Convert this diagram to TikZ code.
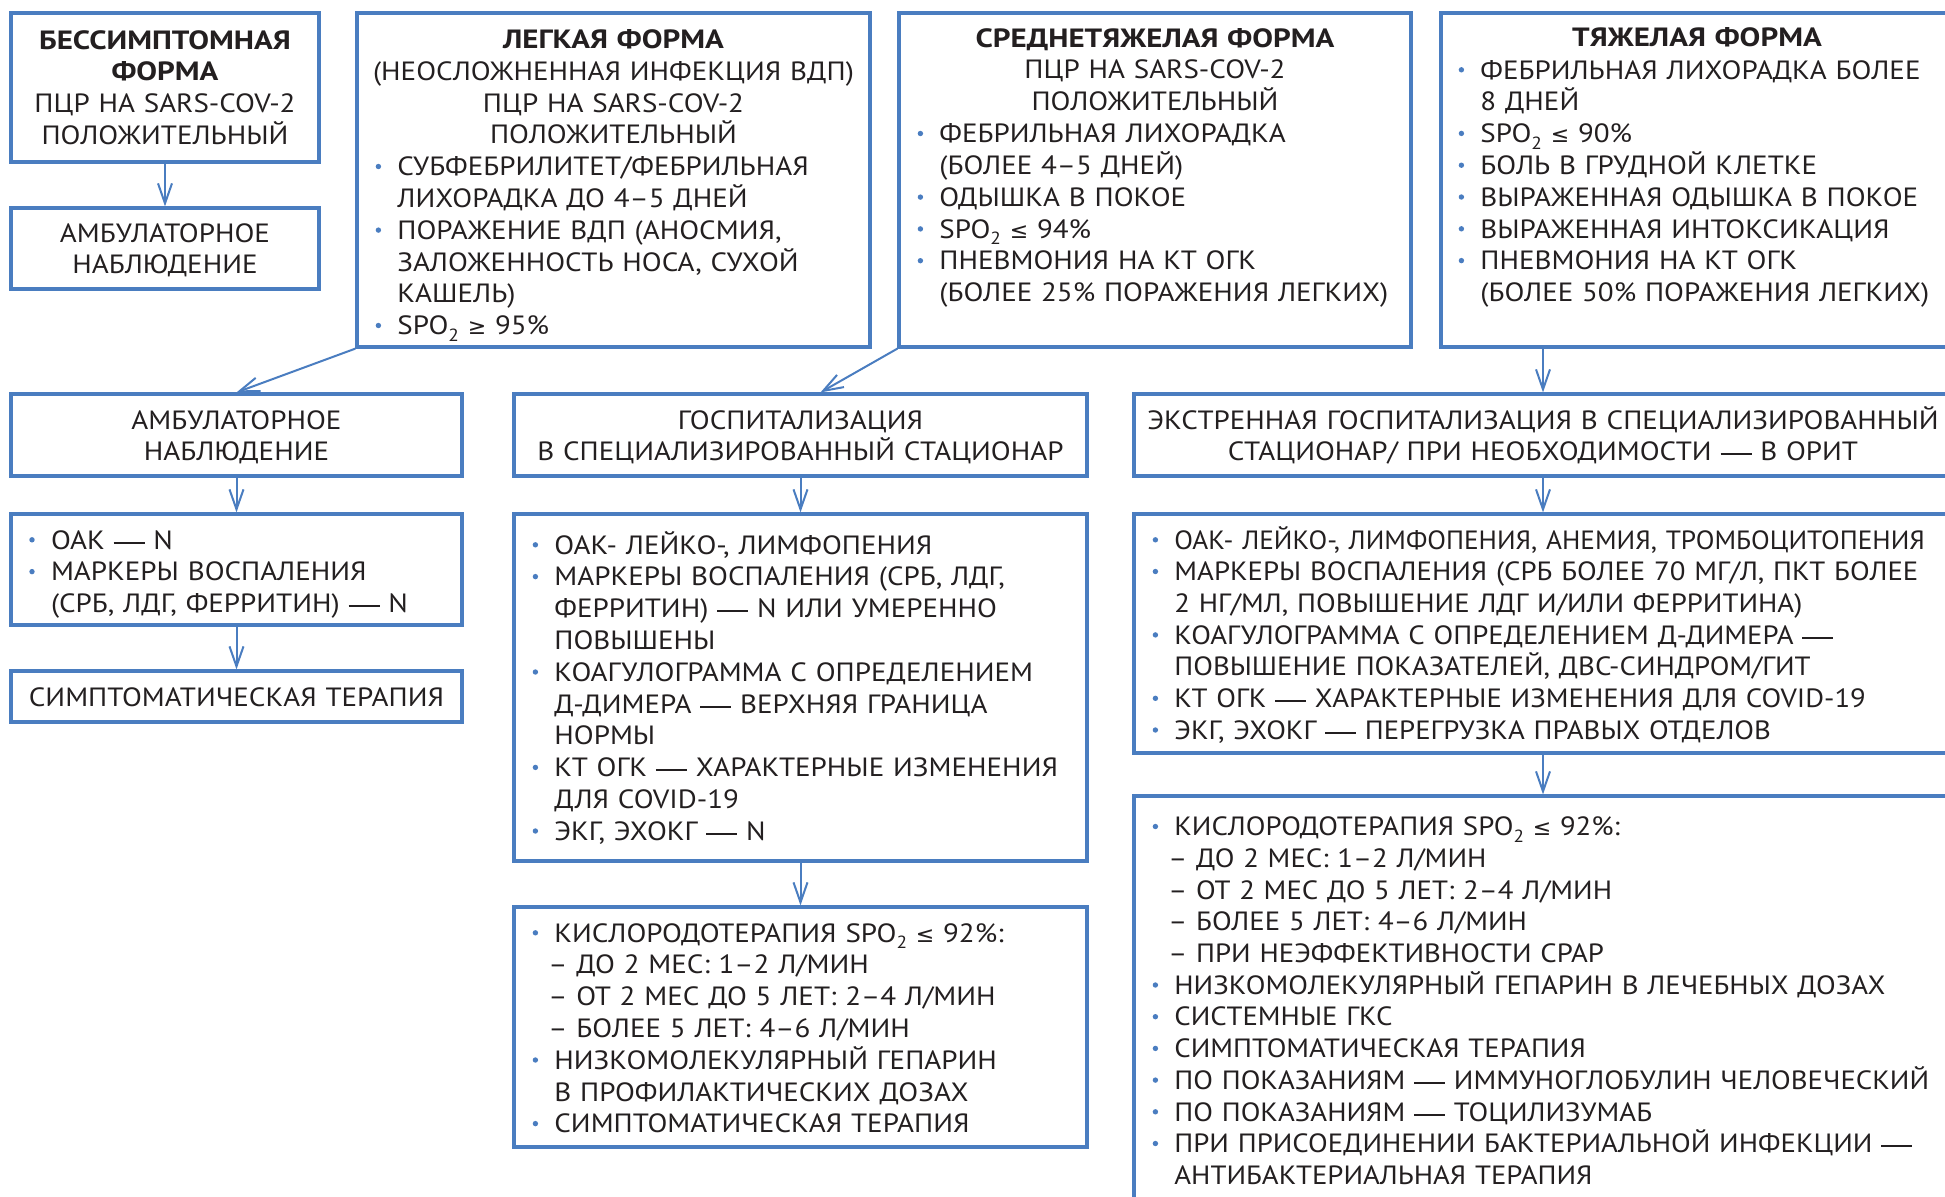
\documentclass[tikz,border=0pt]{standalone}
\usepackage{fontspec}
\setmainfont{PT Sans}[FakeStretch=1.10]
\newfontfamily\hd{PT Sans Bold}[FakeStretch=1.175]
\newfontfamily\rc{PT Sans}[FakeStretch=1.09]
\newfontfamily\nar{PT Sans}[FakeStretch=1.035]
\newfontfamily\symf{DejaVu Sans}
\usetikzlibrary{arrows.meta,fit}
\definecolor{framec}{HTML}{4A7DC0}
\definecolor{inkc}{HTML}{231F20}
% blue list bullet hanging to the left of the text column
\newcommand\bu{\makebox[0pt][r]{\tikz[baseline=0pt]\fill[framec] (0,4.6pt) circle (1.35pt);\hspace{8.15pt}}}
% lowered index digit (SpO2)
\newcommand\sbt[1]{\raisebox{-3.2pt}{\fontsize{8.8}{8.8}\selectfont #1}}
% list dash line, slightly outdented
\newcommand\dl{\hspace*{-3pt}–\ }
% long dash and comparison signs
\newcommand\mdash{\rule[2.7pt]{15.5pt}{1pt}}
\newcommand\lesym{{\symf\fontsize{11}{11}\selectfont ≤}}
\newcommand\gesym{{\symf\fontsize{11}{11}\selectfont ≥}}
\begin{document}
\begin{tikzpicture}[x=0.5pt,y=-0.5pt,
  frame/.style={draw=framec,line width=1.6pt,inner sep=0pt},
  arr/.style={draw=framec,line width=1pt,-{Straight Barb[length=10pt,width=7pt]}},
  txt/.style={inner sep=0pt,text=inkc,font=\fontsize{13.2}{15.9}\selectfont},
  ctext/.style={txt,anchor=base,align=center,text width=#1},
  ltext/.style={txt,anchor=base west,align=left,text width=500pt},
  rtext/.style={ltext,font=\fontsize{13.2}{15.85}\selectfont\rc}]
\useasboundingbox (0,0) rectangle (1945,1196);
\clip (0,0) rectangle (1945,1196);

% ---------- frames ----------
\node[frame,fit={(11,13) (319,162)}]    (b1) {};
\node[frame,fit={(11,208) (319,289)}]   (b2) {};
\node[frame,fit={(357,13) (870,347)}]   (b3) {};
\node[frame,fit={(899,13) (1411,347)}]  (b4) {};
\node[frame,fit={(1441,13) (1953,347)}] (b5) {};
\node[frame,fit={(11,394) (462,476)}]   (b6) {};
\node[frame,fit={(11,514) (462,625)}]   (b7) {};
\node[frame,fit={(11,671) (462,722)}]   (b8) {};
\node[frame,fit={(514,394) (1087,476)}] (b9) {};
\node[frame,fit={(514,514) (1087,861)}] (b10) {};
\node[frame,fit={(514,907) (1087,1147)}] (b11) {};
\node[frame,fit={(1134,394) (1952,476)}] (b12) {};
\node[frame,fit={(1134,514) (1952,753)}] (b13) {};
\node[frame,fit={(1134,796) (1952,1215)}] (b14) {};

% ---------- texts ----------
\node[ctext=150pt] (t1) at (165,49) {{\hd БЕССИМПТОМНАЯ}\\{\hd ФОРМА}\\ПЦР НА SARS-COV-2\\ПОЛОЖИТЕЛЬНЫЙ};
\node[ctext=150pt] (t2) at (165,242) {АМБУЛАТОРНОЕ\\НАБЛЮДЕНИЕ};

\node[ctext=250pt] (t3h) at (613.5,48.5) {{\hd ЛЕГКАЯ ФОРМА}\\(НЕОСЛОЖНЕННАЯ ИНФЕКЦИЯ ВДП)\\ПЦР НА SARS-COV-2\\ПОЛОЖИТЕЛЬНЫЙ};
\node[ltext] (t3) at (397,175.7) {\bu СУБФЕБРИЛИТЕТ/ФЕБРИЛЬНАЯ\\ЛИХОРАДКА ДО 4–5 ДНЕЙ\\\bu ПОРАЖЕНИЕ ВДП (АНОСМИЯ,\\ЗАЛОЖЕННОСТЬ НОСА, СУХОЙ\\КАШЕЛЬ)\\\bu SPO\sbt{2} \gesym{} 95\%};

\node[ctext=250pt] (t4h) at (1155,47) {{\hd СРЕДНЕТЯЖЕЛАЯ ФОРМА}\\ПЦР НА SARS-COV-2\\ПОЛОЖИТЕЛЬНЫЙ};
\node[ltext] (t4) at (939,142.7) {\bu ФЕБРИЛЬНАЯ ЛИХОРАДКА\\(БОЛЕЕ 4–5 ДНЕЙ)\\\bu ОДЫШКА В ПОКОЕ\\\bu SPO\sbt{2} \lesym{} 94\%\\\bu ПНЕВМОНИЯ НА КТ ОГК\\(БОЛЕЕ 25\% ПОРАЖЕНИЯ ЛЕГКИХ)};

\node[ctext=250pt] (t5h) at (1697,46) {{\hd ТЯЖЕЛАЯ ФОРМА}};
\node[ltext] (t5) at (1480,79) {\bu ФЕБРИЛЬНАЯ ЛИХОРАДКА БОЛЕЕ\\8 ДНЕЙ\\\bu SPO\sbt{2} \lesym{} 90\%\\\bu БОЛЬ В ГРУДНОЙ КЛЕТКЕ\\\bu ВЫРАЖЕННАЯ ОДЫШКА В ПОКОЕ\\\bu ВЫРАЖЕННАЯ ИНТОКСИКАЦИЯ\\\bu ПНЕВМОНИЯ НА КТ ОГК\\(БОЛЕЕ 50\% ПОРАЖЕНИЯ ЛЕГКИХ)};

\node[ctext=220pt] (t6) at (236.5,429) {АМБУЛАТОРНОЕ\\НАБЛЮДЕНИЕ};
\node[ltext] (t7) at (50.6,549) {\bu ОАК \mdash{} N\\\bu МАРКЕРЫ ВОСПАЛЕНИЯ\\(СРБ, ЛДГ, ФЕРРИТИН) \mdash{} N};
\node[ctext=220pt] (t8) at (236.5,706) {СИМПТОМАТИЧЕСКАЯ ТЕРАПИЯ};

\node[ctext=290pt] (t9) at (800.5,429) {ГОСПИТАЛИЗАЦИЯ\\В СПЕЦИАЛИЗИРОВАННЫЙ СТАЦИОНАР};
\node[ltext] (t10) at (554,554) {\bu ОАК- ЛЕЙКО-, ЛИМФОПЕНИЯ\\\bu МАРКЕРЫ ВОСПАЛЕНИЯ (СРБ, ЛДГ,\\ФЕРРИТИН) \mdash{} N ИЛИ УМЕРЕННО\\ПОВЫШЕНЫ\\\bu КОАГУЛОГРАММА С ОПРЕДЕЛЕНИЕМ\\Д-ДИМЕРА \mdash{} ВЕРХНЯЯ ГРАНИЦА\\НОРМЫ\\\bu КТ ОГК \mdash{} ХАРАКТЕРНЫЕ ИЗМЕНЕНИЯ\\ДЛЯ COVID-19\\\bu ЭКГ, ЭХОКГ \mdash{} N};
\node[ltext] (t11) at (554,942) {\bu КИСЛОРОДОТЕРАПИЯ SPO\sbt{2} \lesym{} 92\%:\\\dl ДО 2 МЕС: 1–2 Л/МИН\\\dl ОТ 2 МЕС ДО 5 ЛЕТ: 2–4 Л/МИН\\\dl БОЛЕЕ 5 ЛЕТ: 4–6 Л/МИН\\\bu НИЗКОМОЛЕКУЛЯРНЫЙ ГЕПАРИН\\В ПРОФИЛАКТИЧЕСКИХ ДОЗАХ\\\bu СИМПТОМАТИЧЕСКАЯ ТЕРАПИЯ};

\node[ctext=420pt] (t12) at (1543,429) {ЭКСТРЕННАЯ ГОСПИТАЛИЗАЦИЯ В СПЕЦИАЛИЗИРОВАННЫЙ\\СТАЦИОНАР/ ПРИ НЕОБХОДИМОСТИ \mdash{} В ОРИТ};
\node[rtext] (t13) at (1174,549) {\bu {\nar ОАК- ЛЕЙКО-, ЛИМФОПЕНИЯ, АНЕМИЯ, ТРОМБОЦИТОПЕНИЯ}\\\bu МАРКЕРЫ ВОСПАЛЕНИЯ (СРБ БОЛЕЕ 70 МГ/Л, ПКТ БОЛЕЕ\\2 НГ/МЛ, ПОВЫШЕНИЕ ЛДГ И/ИЛИ ФЕРРИТИНА)\\\bu КОАГУЛОГРАММА С ОПРЕДЕЛЕНИЕМ Д-ДИМЕРА \mdash\\ПОВЫШЕНИЕ ПОКАЗАТЕЛЕЙ, ДВС-СИНДРОМ/ГИТ\\\bu КТ ОГК \mdash{} ХАРАКТЕРНЫЕ ИЗМЕНЕНИЯ ДЛЯ COVID-19\\\bu ЭКГ, ЭХОКГ \mdash{} ПЕРЕГРУЗКА ПРАВЫХ ОТДЕЛОВ};
\node[rtext] (t14) at (1174,835.7) {\bu КИСЛОРОДОТЕРАПИЯ SPO\sbt{2} \lesym{} 92\%:\\\dl ДО 2 МЕС: 1–2 Л/МИН\\\dl ОТ 2 МЕС ДО 5 ЛЕТ: 2–4 Л/МИН\\\dl БОЛЕЕ 5 ЛЕТ: 4–6 Л/МИН\\\dl ПРИ НЕЭФФЕКТИВНОСТИ СРАР\\\bu НИЗКОМОЛЕКУЛЯРНЫЙ ГЕПАРИН В ЛЕЧЕБНЫХ ДОЗАХ\\\bu СИСТЕМНЫЕ ГКС\\\bu СИМПТОМАТИЧЕСКАЯ ТЕРАПИЯ\\\bu ПО ПОКАЗАНИЯМ \mdash{} ИММУНОГЛОБУЛИН ЧЕЛОВЕЧЕСКИЙ\\\bu ПО ПОКАЗАНИЯМ \mdash{} ТОЦИЛИЗУМАБ\\\bu ПРИ ПРИСОЕДИНЕНИИ БАКТЕРИАЛЬНОЙ ИНФЕКЦИИ \mdash\\АНТИБАКТЕРИАЛЬНАЯ ТЕРАПИЯ};

% ---------- connectors ----------
\draw[arr] (b1.south) -- (b2.north);
\draw[arr] (b3.south west) -- (b6.north);
\draw[arr] (b4.south west) -- ([xshift=10pt]b9.north);
\draw[arr] (b12.north |- b5.south) -- (b12.north);
\draw[arr] (b6.south) -- (b7.north);
\draw[arr] (b7.south) -- (b8.north);
\draw[arr] (b9.south) -- (b10.north);
\draw[arr] (b10.south) -- (b11.north);
\draw[arr] (b12.south) -- (b13.north);
\draw[arr] (b13.south) -- (b14.north);
\end{tikzpicture}
\end{document}
